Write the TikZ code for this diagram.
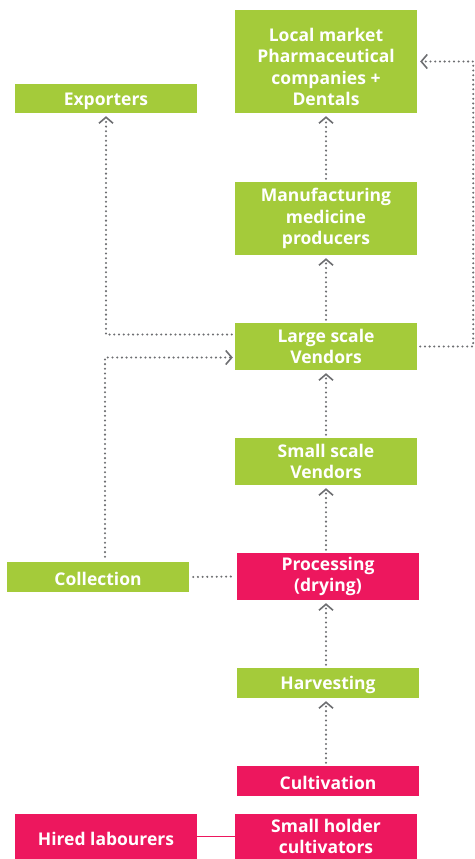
\documentclass[tikz,border=0pt]{standalone}
\usepackage{fontspec}
\setmainfont{Open Sans}
\usetikzlibrary{arrows.meta}
\definecolor{leaf}{HTML}{A4CB3A}
\definecolor{rose}{HTML}{ED175E}
\definecolor{dots}{HTML}{6D6E71}

\begin{document}
\begin{tikzpicture}[x=1pt, y=-1pt,
box/.style={rectangle, fill=leaf, text=white, minimum width=182pt, inner sep=0pt, align=center,
  font=\bfseries\fontsize{17.5}{21.5}\selectfont, execute at begin node={\rule{0pt}{18pt}}},
redbox/.style={box, fill=rose},
link/.style={dots, line width=2.3pt, line cap=round, dash pattern=on 0pt off 4.7pt},
flow/.style={link, -{Straight Barb[length=6pt, width=14pt, line width=1.6pt]}}
]
\useasboundingbox (0,0) rectangle (474,859);
%Nodes
\node[box, minimum height=103pt]    (local)    at (326,61.5)  {\rule{0pt}{24pt}Local market\\Pharmaceutical\\companies +\\Dentals};
\node[box, minimum height=29pt]     (export)   at (106,98.5)  {Exporters};
\node[box, minimum height=73pt]     (manuf)    at (326,218.5) {Manufacturing\\medicine\\producers};
\node[box, minimum height=47pt]     (large)    at (326,346.5) {Large scale\\Vendors};
\node[box, minimum height=47pt]     (small)    at (326,461.5) {Small scale\\Vendors};
\node[redbox, minimum height=47pt]  (process)  at (328,576.5) {Processing\\(drying)};
\node[box, minimum height=30pt]     (collect)  at (98,577)    {Collection};
\node[box, minimum height=30pt]     (harvest)  at (328,683)   {Harvesting};
\node[redbox, minimum height=30pt]  (cultiv)   at (328,781)   {Cultivation};
\node[redbox, minimum height=45pt]  (hired)    at (106,836.5) {Hired labourers};
\node[redbox, minimum height=45pt]  (holder)   at (326,836.5) {Small holder\\cultivators};
%Lines
\draw[flow] ([xshift=-2pt,yshift=3pt]cultiv.north) -- ([xshift=-2pt,yshift=-3pt]harvest.south);
\draw[flow] ([xshift=-2pt,yshift=3pt]harvest.north) -- ([xshift=-2pt,yshift=-3pt]process.south);
\draw[flow] ([xshift=-2pt,yshift=3pt]process.north) -- ([yshift=-3pt]small.south);
\draw[flow] ([yshift=3pt]small.north) -- ([yshift=-3pt]large.south);
\draw[flow] ([yshift=3pt]large.north) -- ([yshift=-3pt]manuf.south);
\draw[flow] ([yshift=3pt]manuf.north) -- ([yshift=-3pt]local.south);
\draw[flow] ([xshift=3pt]large.east) -- ++(53,0) |- ([xshift=3pt]local.east);
\draw[flow] ([xshift=-3pt,yshift=12pt]large.west) -| ([yshift=-3pt]export.south);
\draw[flow] ([xshift=7pt,yshift=5pt]collect.north) |- ([xshift=-2pt,yshift=-11pt]large.west);
\draw[link] ([xshift=4pt]collect.east) -- ([xshift=-2pt]process.west);
\draw[rose, line width=1.6pt] (hired) -- (holder);
\end{tikzpicture}
\end{document}
